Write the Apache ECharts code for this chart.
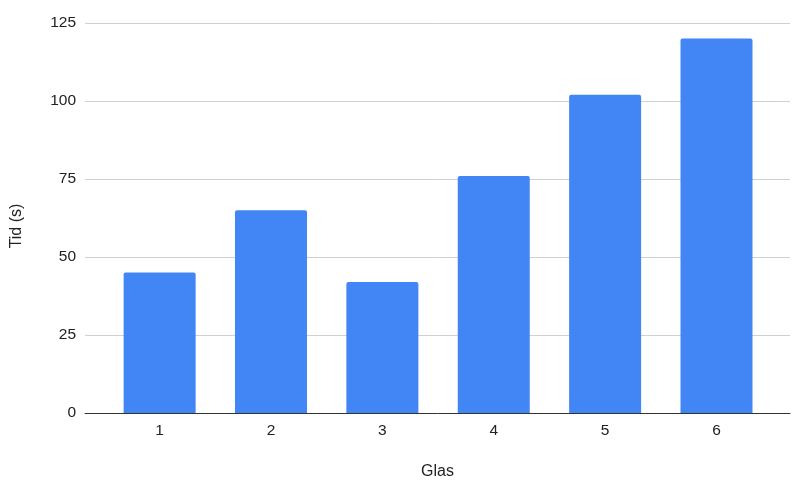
<!DOCTYPE html>
<html>
<head>
<meta charset="utf-8">
<script src="https://cdn.jsdelivr.net/npm/echarts@6/dist/echarts.min.js"></script>
<style>html,body{margin:0;padding:0;background:#fff;}#c{width:800px;height:499px;}</style>
</head>
<body>
<div id="c"></div>
<script>
var categories = ['1', '2', '3', '4', '5', '6'];
var values = [45, 65, 42, 76, 102, 120];
var yTicks = [0, 25, 50, 75, 100, 125];

var chart = echarts.init(document.getElementById('c'), null, {renderer: 'canvas'});
var data = values.map(function (v, i) { return [i + 1, v]; });
var xPositions = categories.map(function (c, i) { return i + 1; });

chart.setOption({
  animation: false,
  backgroundColor: '#ffffff',
  textStyle: {fontFamily: 'Liberation Sans, Arial, sans-serif'},
  grid: {left: 85, right: 10, top: 23, bottom: 86, containLabel: false},
  xAxis: {
    type: 'value',
    min: 0.33,
    max: 6.66,
    name: 'Glas',
    nameLocation: 'middle',
    nameGap: 51,
    nameTextStyle: {fontSize: 16, color: '#222', fontFamily: 'Liberation Sans, Arial, sans-serif'},
    axisLine: {show: true, lineStyle: {color: '#333', width: 1}},
    axisTick: {show: false},
    splitLine: {show: false},
    axisLabel: {
      customValues: xPositions,
      formatter: function (v) { return categories[Math.round(v) - 1]; },
      fontSize: 15.5, color: '#222', margin: 10
    }
  },
  yAxis: {
    type: 'value',
    min: 0,
    max: 125,
    interval: 25,
    name: 'Tid (s)',
    nameLocation: 'middle',
    nameGap: 60,
    nameTextStyle: {fontSize: 16, color: '#222', padding: [0, 16, 0, 0], fontFamily: 'Liberation Sans, Arial, sans-serif'},
    axisLine: {show: false},
    axisTick: {show: false},
    splitLine: {lineStyle: {color: '#d0d0d0', width: 1}},
    axisLabel: {
      fontSize: 15.5, color: '#222', margin: 9,
      formatter: function (v) { return yTicks.indexOf(v) >= 0 ? String(v) : ''; }
    }
  },
  series: [{
    type: 'bar',
    data: data,
    barWidth: 72,
    itemStyle: {color: '#4285F4', borderRadius: [2, 2, 0, 0]}
  }]
});
</script>
</body>
</html>
